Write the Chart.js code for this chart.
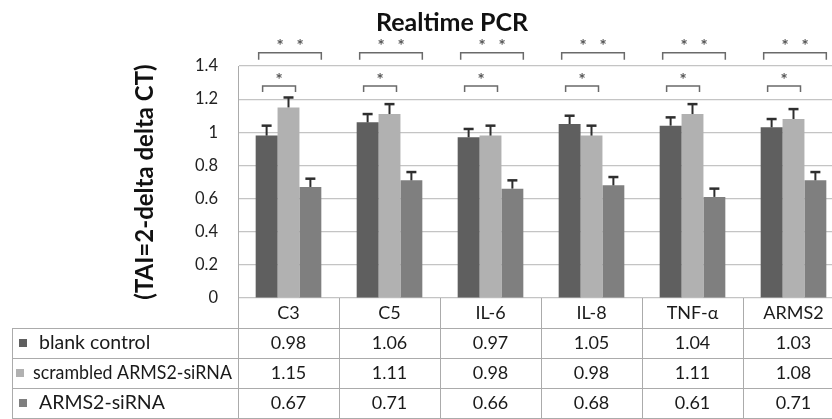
<!DOCTYPE html>
<html>
<head>
<meta charset="utf-8">
<script src="https://cdn.jsdelivr.net/npm/chart.js@4"></script>
<style>
  html, body { margin: 0; padding: 0; background: #fff; overflow: hidden; }
  canvas { display: block; }
</style>
</head>
<body>
<canvas id="pcrChart" width="850" height="419"></canvas>
<script>
/* -----------------------------
   Data
------------------------------ */
const genes = ['C3', 'C5', 'IL-6', 'IL-8', 'TNF-\u03b1', 'ARMS2'];

const blankControl = [0.98, 1.06, 0.97, 1.05, 1.04, 1.03];
const scrambledSiRNA = [1.15, 1.11, 0.98, 0.98, 1.11, 1.08];
const armsSiRNA = [0.67, 0.71, 0.66, 0.68, 0.61, 0.71];

const blankErr = [0.06, 0.05, 0.05, 0.05, 0.05, 0.05];
const scrambledErr = [0.06, 0.06, 0.06, 0.06, 0.06, 0.06];
const armsErr = [0.05, 0.05, 0.05, 0.05, 0.05, 0.05];

const yTicks = [0, 0.2, 0.4, 0.6, 0.8, 1, 1.2, 1.4];

const FONT = 'Lato, "Open Sans", sans-serif';
const LINE = '#ababab';

/* -----------------------------
   Error bars (T caps)
------------------------------ */
const errorBars = {
  id: 'errorBars',
  afterDatasetsDraw(chart) {
    const ctx = chart.ctx;
    const y = chart.scales.y;
    ctx.save();
    ctx.strokeStyle = '#2e2e2e';
    chart.data.datasets.forEach((ds, di) => {
      const meta = chart.getDatasetMeta(di);
      meta.data.forEach((bar, i) => {
        const top = y.getPixelForValue(ds.data[i] + ds.errors[i]);
        ctx.lineWidth = 2;
        ctx.beginPath();
        ctx.moveTo(bar.x, bar.y);
        ctx.lineTo(bar.x, top);
        ctx.stroke();
        ctx.lineWidth = 2.5;
        ctx.beginPath();
        ctx.moveTo(bar.x - 5, top);
        ctx.lineTo(bar.x + 5, top);
        ctx.stroke();
      });
    });
    ctx.restore();
  }
};

/* -----------------------------
   Significance brackets
------------------------------ */
const brackets = {
  id: 'brackets',
  afterDraw(chart) {
    const ctx = chart.ctx;
    const y = chart.scales.y;
    const m0 = chart.getDatasetMeta(0).data;
    const m1 = chart.getDatasetMeta(1).data;
    const m2 = chart.getDatasetMeta(2).data;
    const bigY = y.getPixelForValue(1.48);
    const smallY = y.getPixelForValue(1.28);
    ctx.save();
    ctx.strokeStyle = '#6a6a6a';
    ctx.lineWidth = 1.5;
    ctx.fillStyle = '#555';
    ctx.font = 'bold 17px ' + FONT;
    ctx.textAlign = 'center';
    ctx.textBaseline = 'middle';
    genes.forEach((g, i) => {
      const half = m0[i].width / 2;
      // ** : blank control vs ARMS2-siRNA
      const x1 = m0[i].x - half + 3;
      const x2 = m2[i].x + half;
      ctx.beginPath();
      ctx.moveTo(x1, bigY + 7);
      ctx.lineTo(x1, bigY);
      ctx.lineTo(x2, bigY);
      ctx.lineTo(x2, bigY + 7);
      ctx.stroke();
      const mid = (x1 + x2) / 2;
      ctx.fillText('*', mid - 10, bigY - 6);
      ctx.fillText('*', mid + 10, bigY - 6);
      // * : blank control vs scrambled
      const s1 = m0[i].x - 4;
      const s2 = m1[i].x + 7;
      ctx.beginPath();
      ctx.moveTo(s1, smallY + 6);
      ctx.lineTo(s1, smallY);
      ctx.lineTo(s2, smallY);
      ctx.lineTo(s2, smallY + 6);
      ctx.stroke();
      ctx.fillText('*', (s1 + s2) / 2, smallY - 5);
    });
    ctx.restore();
  }
};

/* -----------------------------
   Title + data table
------------------------------ */
const dataTable = {
  id: 'dataTable',
  afterDraw(chart) {
    const ctx = chart.ctx;
    const area = chart.chartArea;
    const x = chart.scales.x;
    const rowH = 30;
    const tableLeft = 12;
    const colW = (area.right - area.left) / genes.length;
    const top = area.bottom;
    const bottom = top + rowH * 4;

    ctx.save();
    // title
    ctx.fillStyle = '#111';
    ctx.font = 'bold 25px ' + FONT;
    ctx.textAlign = 'center';
    ctx.textBaseline = 'middle';
    ctx.fillText('Realtime PCR', 452, 23);

    // grid of the table
    ctx.strokeStyle = LINE;
    ctx.lineWidth = 1;
    ctx.beginPath();
    for (let r = 1; r <= 4; r++) {
      ctx.moveTo(tableLeft, top + rowH * r + 0.5);
      ctx.lineTo(area.right, top + rowH * r + 0.5);
    }
    ctx.moveTo(tableLeft + 0.5, top + rowH);
    ctx.lineTo(tableLeft + 0.5, bottom);
    for (let c = 0; c <= genes.length; c++) {
      const cx = Math.round(area.left + colW * c) + 0.5;
      ctx.moveTo(cx, top);
      ctx.lineTo(cx, bottom);
    }
    ctx.stroke();

    // header + values
    ctx.fillStyle = '#1a1a1a';
    ctx.font = '18px ' + FONT;
    genes.forEach((g, i) => {
      const cx = x.getPixelForValue(i);
      ctx.fillText(g, cx, top + rowH / 2);
      chart.data.datasets.forEach((ds, di) => {
        ctx.fillText(ds.data[i].toFixed(2), cx, top + rowH * (di + 1.5));
      });
    });

    // legend cells (long label squeezed to fit its cell)
    ctx.textAlign = 'left';
    ctx.font = '19.5px ' + FONT;
    chart.data.datasets.forEach((ds, di) => {
      const cy = top + rowH * (di + 1.5);
      const tight = di === 1;
      const sx = tight ? 16 : 19;
      const tx = sx + (tight ? 17 : 20);
      ctx.fillStyle = ds.backgroundColor;
      ctx.fillRect(sx, cy - 4, 8, 8);
      ctx.fillStyle = '#1a1a1a';
      ctx.fillText(ds.label, tx, cy, area.left - tx - 6);
    });
    ctx.restore();
  }
};

/* -----------------------------
   Chart
------------------------------ */
const ctx = document.getElementById('pcrChart').getContext('2d');

new Chart(ctx, {
  type: 'bar',
  data: {
    labels: genes,
    datasets: [
      { label: 'blank control', data: blankControl, errors: blankErr, backgroundColor: '#5f5f5f' },
      { label: 'scrambled ARMS2-siRNA', data: scrambledSiRNA, errors: scrambledErr, backgroundColor: '#b1b1b1' },
      { label: 'ARMS2-siRNA', data: armsSiRNA, errors: armsErr, backgroundColor: '#7f7f7f' }
    ]
  },
  options: {
    responsive: false,
    animation: false,
    categoryPercentage: 0.65,
    barPercentage: 1.0,
    layout: { padding: { left: 127, right: 6, top: 66, bottom: 121 } },
    plugins: {
      legend: { display: false },
      title: { display: false },
      tooltip: { enabled: false }
    },
    scales: {
      x: { display: false },
      y: {
        min: 0,
        max: 1.4,
        afterFit: scale => { scale.width = 111; },
        afterBuildTicks: scale => { scale.ticks = yTicks.map(v => ({ value: v })); },
        grid: { color: '#c4c4c4', lineWidth: 1.2, drawTicks: false },
        border: { display: true, color: LINE },
        ticks: {
          padding: 20,
          color: '#222',
          font: { family: FONT, size: 16.5 },
          callback: v => String(+v.toFixed(1))
        },
        title: {
          display: true,
          text: '(TAI=2-delta delta CT)',
          color: '#111',
          padding: { top: 4, bottom: 0 },
          font: { family: FONT, size: 24, weight: 'bold' }
        }
      }
    }
  },
  plugins: [errorBars, brackets, dataTable]
});
</script>
</body>
</html>
